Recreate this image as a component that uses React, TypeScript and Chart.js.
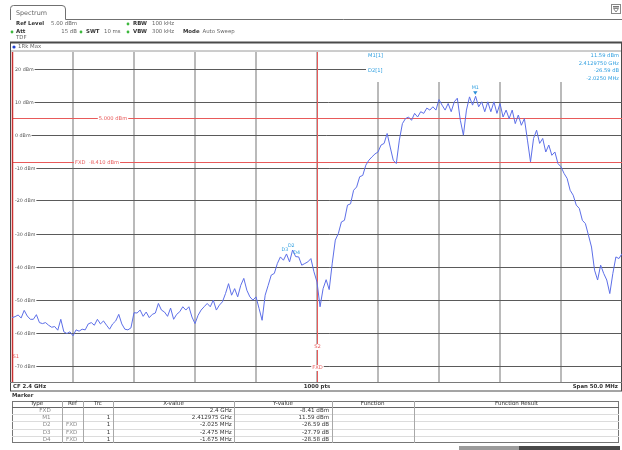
import React, { useEffect, useRef } from 'react';
import { Chart, registerables } from 'chart.js';

Chart.register(...registerables);

// ---- data ----
const FREQ_START_MHZ = -25; // offset from CF 2.4 GHz
const FREQ_STEP_MHZ = 0.25;
const TRACE_DBM = [
  -55.5, -55.2, -54.7, -55.6, -53.3, -55.0, -56.0, -56.0, -54.6, -57.0,
  -57.3, -57.0, -57.8, -58.4, -58.2, -59.3, -56.0, -59.8, -60.3, -59.8,
  -61.0, -59.2, -59.6, -59.0, -59.2, -57.4, -57.0, -57.8, -56.0, -57.4,
  -56.5, -57.8, -59.0, -57.4, -56.5, -54.5, -57.4, -59.0, -59.2, -58.6,
  -54.0, -54.1, -53.2, -55.1, -53.8, -55.5, -54.5, -54.1, -51.2, -53.2,
  -53.8, -55.1, -52.6, -56.0, -54.5, -53.7, -52.2, -53.2, -52.2, -55.3,
  -57.3, -54.8, -53.2, -52.2, -51.2, -52.2, -50.2, -53.2, -51.7, -50.7,
  -48.2, -45.2, -48.7, -46.7, -49.2, -45.7, -43.6, -47.2, -49.2, -50.2,
  -49.2, -52.7, -56.3, -48.7, -45.7, -42.6, -42.1, -39.1, -37.1, -38.1,
  -36.2, -38.6, -35.0, -37.0, -37.1, -39.6, -39.1, -38.6, -37.6, -41.6,
  -44.7, -52.2, -46.7, -44.0, -47.0, -39.0, -32.0, -30.0, -26.5, -26.0,
  -21.4, -21.0, -16.9, -15.9, -12.8, -12.4, -9.3, -7.8, -6.8, -5.9,
  -5.3, -3.2, -2.7, 0.3, -3.8, -7.8, -8.8, -1.7, 3.3, 4.8,
  5.3, 4.3, 6.4, 5.3, 6.9, 6.4, 8.0, 7.4, 8.4, 7.4,
  10.6, 8.9, 7.4, 9.4, 6.9, 9.9, 11.0, 4.3, -0.2, 7.4,
  11.4, 8.9, 11.59, 8.4, 9.9, 6.9, 9.9, 6.9, 9.9, 6.4,
  9.4, 5.3, 7.4, 4.8, 7.4, 3.3, 5.9, 2.8, 4.8, -1.7,
  -8.3, -1.2, 1.3, -2.7, -1.2, -5.3, -3.2, -6.3, -5.3, -8.8,
  -9.8, -11.8, -13.3, -16.9, -18.4, -21.4, -22.4, -26.0, -27.0, -30.5,
  -34.1, -41.1, -44.1, -39.6, -42.1, -44.1, -48.2, -42.1, -37.1, -37.6,
  -36.1,
];
const X_GRID_MHZ = [-20, -15, -10, -5, 0, 5, 10, 15, 20];
const Y_GRID_DBM = [20, 10, 0, -10, -20, -30, -40, -50, -60, -70];
const DISPLAY_LINE_DBM = 5;
const FXD_DBM = -8.41;
const FXD_MHZ = 0;
const MARKER_NAMES = ['M1', 'D2', 'D3', 'D4'];
const MARKER_MHZ = [12.975, -2.025, -2.475, -1.675];
const MARKER_DBM = [11.59, -35.0, -36.2, -36.99];
const INFO_LEFT = ['M1[1]', 'D2[1]'];
const INFO_RIGHT = ['11.59 dBm', '2.4129750 GHz', '-26.59 dB', '-2.0250 MHz'];
const TABLE_HEAD = ['Type', 'Ref', 'Trc', 'X-value', 'Y-value', 'Function', 'Function Result'];
const TABLE_TYPE = ['FXD', 'M1', 'D2', 'D3', 'D4'];
const TABLE_REF = ['', '', 'FXD', 'FXD', 'FXD'];
const TABLE_TRC = ['', '1', '1', '1', '1'];
const TABLE_X = ['2.4 GHz', '2.412975 GHz', '-2.025 MHz', '-2.475 MHz', '-1.675 MHz'];
const TABLE_Y = ['-8.41 dBm', '11.59 dBm', '-26.59 dB', '-27.79 dB', '-28.58 dB'];

const FONT = '"DejaVu Sans", Verdana, sans-serif';
const RED = '#e85a5a';
const BLUE_TXT = '#2f9fe0';

function line(ctx: CanvasRenderingContext2D, x1: number, y1: number, x2: number, y2: number) {
  ctx.beginPath();
  ctx.moveTo(x1, y1);
  ctx.lineTo(x2, y2);
  ctx.stroke();
}

function labelBox(ctx: CanvasRenderingContext2D, text: string, cx: number, cy: number, color: string) {
  const w = ctx.measureText(text).width;
  ctx.fillStyle = '#fff';
  ctx.fillRect(cx - w / 2 - 1, cy - 3, w + 2, 6);
  ctx.fillStyle = color;
  ctx.textAlign = 'center';
  ctx.fillText(text, cx, cy);
}

const decor = {
  id: 'decor',
  beforeDraw(chart: any) {
    const { ctx, chartArea: a, scales } = chart;
    const xs = scales.x, ys = scales.y;
    ctx.save();
    ctx.fillStyle = '#fff';
    ctx.fillRect(0, 0, chart.width, chart.height);

    // tab + header frame
    ctx.strokeStyle = '#707070';
    ctx.lineWidth = 1;
    ctx.beginPath();
    ctx.moveTo(10.5, 20);
    ctx.lineTo(10.5, 8.5);
    ctx.quadraticCurveTo(10.5, 5.5, 13.5, 5.5);
    ctx.lineTo(62, 5.5);
    ctx.quadraticCurveTo(65.5, 5.5, 65.5, 9);
    ctx.lineTo(65.5, 19.5);
    ctx.lineTo(622, 19.5);
    ctx.stroke();
    // top-right icon
    ctx.strokeStyle = '#888';
    ctx.strokeRect(611.5, 4.5, 9, 9);
    ctx.fillStyle = '#777';
    ctx.fillRect(613, 6, 6, 1.5);
    ctx.beginPath();
    ctx.moveTo(613.5, 8.5); ctx.lineTo(618.5, 8.5); ctx.lineTo(616, 12); ctx.closePath();
    ctx.stroke();

    // green status dots
    ctx.fillStyle = '#3cb83c';
    [[12, 32], [81, 32], [128, 24], [128, 32]].forEach(([px, py]) => {
      ctx.beginPath(); ctx.arc(px, py, 1.4, 0, Math.PI * 2); ctx.fill();
    });

    // window frame
    ctx.strokeStyle = '#4a4a4a';
    ctx.lineWidth = 2;
    line(ctx, 10, 42.5, 622, 42.5);
    ctx.lineWidth = 1;
    ctx.strokeStyle = '#9a9a9a';
    line(ctx, 10, 51, 622, 51);
    ctx.strokeStyle = '#4a4a4a';
    line(ctx, 10.5, 42, 10.5, 391);
    line(ctx, 621.5, 42, 621.5, 391);
    // trace indicator dot
    ctx.fillStyle = '#2040d0';
    ctx.beginPath(); ctx.arc(14, 47, 1.6, 0, Math.PI * 2); ctx.fill();

    // vertical grid
    ctx.strokeStyle = '#a3a3a3';
    ctx.lineWidth = 1.5;
    X_GRID_MHZ.forEach((f) => {
      const px = Math.round(xs.getPixelForValue(f));
      const top = px > 366 ? 82 : a.top;
      line(ctx, px, top, px, a.bottom);
    });

    // horizontal grid with labels
    ctx.font = `4.8px ${FONT}`;
    ctx.textBaseline = 'middle';
    Y_GRID_DBM.forEach((v) => {
      const py = Math.round(ys.getPixelForValue(v)) + 0.5;
      const txt = `${v} dBm`;
      const w = ctx.measureText(txt).width;
      ctx.strokeStyle = '#5a5a5a';
      ctx.lineWidth = 1;
      line(ctx, 15 + w + 1, py, v === 20 ? 366 : a.right, py);
      ctx.fillStyle = '#555';
      ctx.textAlign = 'left';
      ctx.fillText(txt, 15, py);
    });

    // red reference lines
    ctx.strokeStyle = RED;
    ctx.lineWidth = 1;
    const pyD = Math.round(ys.getPixelForValue(DISPLAY_LINE_DBM)) + 0.5;
    const pyF = Math.round(ys.getPixelForValue(FXD_DBM)) + 0.5;
    const pxF = Math.round(xs.getPixelForValue(FXD_MHZ)) + 0.5;
    line(ctx, a.left, pyD, a.right, pyD);
    line(ctx, a.left, pyF, a.right, pyF);
    line(ctx, pxF, a.top, pxF, a.bottom);
    ctx.strokeStyle = '#c83030';
    ctx.lineWidth = 1.5;
    line(ctx, 12.5, a.top, 12.5, a.bottom);

    ctx.font = `5.2px ${FONT}`;
    labelBox(ctx, '5.000 dBm', 113, pyD, RED);
    labelBox(ctx, 'FXD  -8.410 dBm', 97, pyF, RED);
    labelBox(ctx, 'S2', pxF, 347, RED);
    labelBox(ctx, 'FXD', pxF, 368, RED);
    ctx.fillStyle = RED;
    ctx.textAlign = 'left';
    ctx.fillText('S1', 12.5, 357);

    // bottom status bar lines
    ctx.strokeStyle = '#7a7a7a';
    ctx.lineWidth = 1;
    line(ctx, 10, 382.5, 622, 382.5);
    ctx.strokeStyle = '#4a4a4a';
    line(ctx, 10, 391, 622, 391);
    // task strip at very bottom
    ctx.fillStyle = '#9c9c9c';
    ctx.fillRect(459, 446, 60, 4);
    ctx.fillStyle = '#4a4a4a';
    ctx.fillRect(519, 446, 101, 4);
    ctx.restore();
  },
  afterDatasetsDraw(chart: any) {
    const { ctx, scales } = chart;
    const xs = scales.x, ys = scales.y;
    ctx.save();
    // marker info box
    ctx.fillStyle = '#fff';
    ctx.fillRect(366, 52, 254, 29);
    ctx.font = `5.2px ${FONT}`;
    ctx.textBaseline = 'middle';
    ctx.fillStyle = BLUE_TXT;
    ctx.textAlign = 'left';
    ctx.fillText(INFO_LEFT[0], 368, 56);
    ctx.fillText(INFO_LEFT[1], 368, 71);
    ctx.textAlign = 'right';
    INFO_RIGHT.forEach((t, i) => ctx.fillText(t, 619, 56 + i * 7.5));

    // marker symbols and labels
    ctx.font = `4.8px ${FONT}`;
    ctx.textAlign = 'center';
    MARKER_NAMES.forEach((n, i) => {
      const px = xs.getPixelForValue(MARKER_MHZ[i]);
      const py = ys.getPixelForValue(MARKER_DBM[i]);
      if (n === 'M1') {
        ctx.fillStyle = '#2a8fd8';
        ctx.beginPath();
        ctx.moveTo(px - 2.2, py - 5);
        ctx.lineTo(px + 2.2, py - 5);
        ctx.lineTo(px, py - 1.5);
        ctx.closePath();
        ctx.fill();
        ctx.fillStyle = BLUE_TXT;
        ctx.fillText(n, px, py - 8.5);
      } else {
        ctx.fillStyle = BLUE_TXT;
        const dx = n === 'D3' ? -2 : n === 'D4' ? 0 : -1;
        ctx.fillText(n, px + dx, py - 4);
      }
    });
    ctx.restore();
  },
};

function T(props: { x: number; y: number; a?: 'l' | 'c' | 'r'; b?: boolean; c?: string; s?: number; children: React.ReactNode }) {
  const { x, y, a = 'l', b = false, c = '#333', s = 5.4, children } = props;
  const tr = a === 'l' ? 'translate(0,-50%)' : a === 'c' ? 'translate(-50%,-50%)' : 'translate(-100%,-50%)';
  return (
    <div
      style={{
        position: 'absolute', left: x, top: y, transform: tr, whiteSpace: 'nowrap',
        fontSize: s, fontWeight: b ? 700 : 400, color: c, lineHeight: 1, fontFamily: FONT,
      }}
    >
      {children}
    </div>
  );
}

const COL_W = [49.7, 21.6, 29.4, 121.6, 97.4, 82, 205.6];
const ROW_H = 7.2;
const HEAD_H = 6.4;

export default function App() {
  const ref = useRef<HTMLCanvasElement | null>(null);
  useEffect(() => {
    if (!ref.current) return;
    const chart = new Chart(ref.current, {
      type: 'line',
      data: {
        datasets: [
          {
            data: TRACE_DBM.map((v, i) => ({ x: FREQ_START_MHZ + i * FREQ_STEP_MHZ, y: v })),
            borderColor: '#5d6fe8',
            borderWidth: 1,
            pointRadius: 0,
            tension: 0,
          },
        ],
      },
      options: {
        responsive: false,
        animation: false,
        devicePixelRatio: window.devicePixelRatio || 1,
        layout: { padding: { left: 12, top: 52, right: 0, bottom: 68 } },
        scales: {
          x: { type: 'linear', min: -25, max: 25, display: false },
          y: { type: 'linear', min: -75, max: 25, display: false },
        },
        plugins: { legend: { display: false }, tooltip: { enabled: false } },
      },
      plugins: [decor],
    });
    return () => chart.destroy();
  }, []);

  const colLeft = COL_W.map((_, i) => 12 + COL_W.slice(0, i).reduce((s, w) => s + w, 0));
  const tableTop = 400.5;
  const tableW = COL_W.reduce((s, w) => s + w, 0);
  const tableBottom = tableTop + HEAD_H + ROW_H * TABLE_TYPE.length;
  const columns = [TABLE_TYPE, TABLE_REF, TABLE_TRC, TABLE_X, TABLE_Y];
  const colPad = [11, 6, 2.5, 2.5, 2.5];
  const colColor = ['#8a8a8a', '#8a8a8a', '#333', '#333', '#333'];

  return (
    <div style={{ position: 'absolute', left: 0, top: 0, width: 622, height: 450, overflow: 'hidden', background: '#fff', fontFamily: FONT }}>
      <canvas ref={ref} width={622} height={450} style={{ position: 'absolute', left: 0, top: 0, width: 622, height: 450 }} />
      <div style={{ position: 'absolute', left: 0, top: 0, width: 622, height: 450, pointerEvents: 'none' }}>
        <T x={16} y={13.3} s={6.4} c="#666">Spectrum</T>
        <T x={16} y={24} b>Ref Level</T>
        <T x={51} y={24} c="#666">5.00 dBm</T>
        <T x={133} y={24} b>RBW</T>
        <T x={152} y={24} c="#666">100 kHz</T>
        <T x={16} y={32} b>Att</T>
        <T x={77} y={32} a="r" c="#666">15 dB</T>
        <T x={86} y={32} b>SWT</T>
        <T x={104} y={32} c="#666">10 ms</T>
        <T x={133} y={32} b>VBW</T>
        <T x={152} y={32} c="#666">300 kHz</T>
        <T x={183} y={32} b>Mode</T>
        <T x={202.5} y={32} c="#666">Auto Sweep</T>
        <T x={16} y={38.3} c="#666">TDF</T>
        <T x={18} y={47.3} c="#666">1Rk Max</T>

        <T x={13} y={386.7} b>CF 2.4 GHz</T>
        <T x={317} y={386.7} a="c" b>1000 pts</T>
        <T x={618} y={386.7} a="r" b>Span 50.0 MHz</T>
        <T x={12} y={395.8} b>Marker</T>

        {/* marker table */}
        <div style={{ position: 'absolute', left: 12, top: tableTop, width: tableW, height: tableBottom - tableTop, border: '1px solid #777', borderBottomWidth: 1.5, boxSizing: 'border-box' }} />
        <div style={{ position: 'absolute', left: 12, top: tableTop + HEAD_H, width: tableW, height: 1, background: '#666' }} />
        {TABLE_TYPE.slice(0, -1).map((_, r) => (
          <div key={'rl' + r} style={{ position: 'absolute', left: 12, top: tableTop + HEAD_H + ROW_H * (r + 1), width: tableW, height: 1, background: '#dcdcdc' }} />
        ))}
        {colLeft.slice(1).map((x, i) => (
          <div key={'cl' + i} style={{ position: 'absolute', left: x, top: tableTop, width: 1, height: tableBottom - tableTop, background: '#a8a8a8' }} />
        ))}
        {TABLE_HEAD.map((h, i) => (
          <T key={h} x={colLeft[i] + COL_W[i] / 2} y={tableTop + HEAD_H / 2 + 0.5} a="c" s={5.6}>{h}</T>
        ))}
        {columns.map((col, ci) =>
          col.map((v, r) =>
            v ? (
              <T key={ci + '-' + r} x={colLeft[ci] + COL_W[ci] - colPad[ci]} y={tableTop + HEAD_H + ROW_H * r + ROW_H / 2 + 0.5} a="r" s={5.6} c={colColor[ci]}>
                {v}
              </T>
            ) : null,
          ),
        )}
      </div>
    </div>
  );
}
